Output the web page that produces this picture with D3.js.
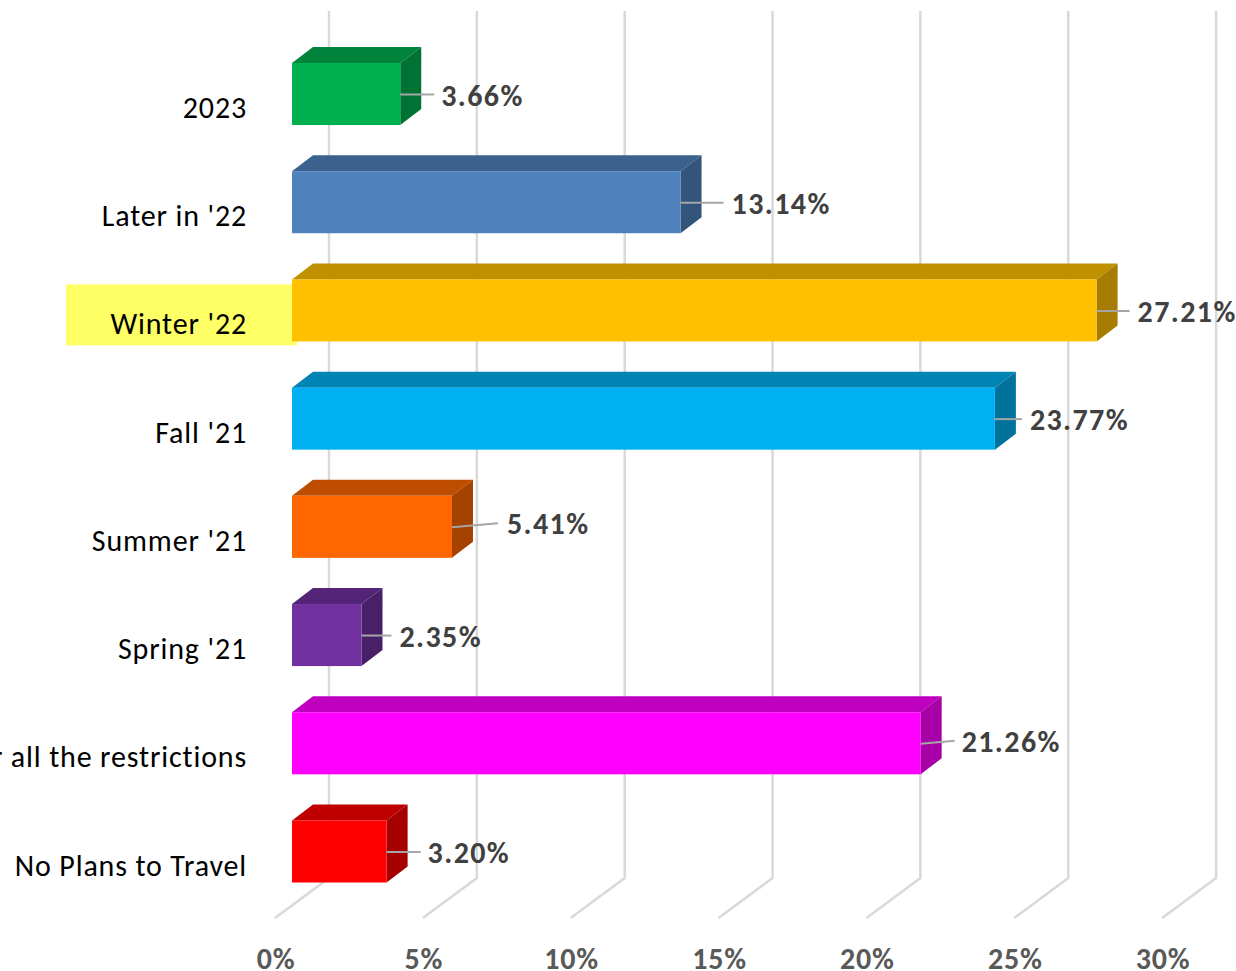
<!DOCTYPE html>
<html><head><meta charset="utf-8">
<script src="https://cdnjs.cloudflare.com/ajax/libs/d3/7.8.5/d3.min.js"></script>
<style>html,body{margin:0;background:#fff;overflow:hidden}svg{display:block}text{font-family:Carlito,Lato,"Open Sans",sans-serif}</style>
</head><body><script>
const categories = ["2023","Later in '22","Winter '22","Fall '21","Summer '21","Spring '21","Travel after all the restrictions","No Plans to Travel"];
const values = [3.66,13.14,27.21,23.77,5.41,2.35,21.26,3.20];
const barColors = ["#00B050","#4F81BD","#FFC000","#00B0F0","#FF6600","#7030A0","#FF00FF","#FF0000"];
const axisTicks = [0,5,10,15,20,25,30];
const highlighted = "Winter '22";
// layout of the leader lines, separate from the data
const leaderLength = [34,43,33,27,46,30,34,34];
const leaderRise = [0,0,0,0,4,0,3,0];
const labelGap = [41,51,41,35,55,38,41,41];

const W=1236,H=971, depthX=21, depthY=16;
const svg=d3.select("body").append("svg").attr("width",W).attr("height",H);
const x=d3.scaleLinear().domain([0,30]).range([292,292+29.57*30]);
const y=d3.scaleBand().domain(categories).range([63,882.5]).paddingInner(0.4267).paddingOuter(0);
const gridBackX=37, floorFrontX=-17, gridTop=11, gridBottom=878, floorY=918;

const grid=svg.append("g").attr("fill","none").attr("stroke","#D9D9D9").attr("stroke-width",2.5);
grid.selectAll("path").data(axisTicks).join("path")
 .attr("d",d=>`M${x(d)+gridBackX},${gridTop}V${gridBottom}L${x(d)+floorFrontX},${floorY}`);

svg.append("rect").attr("x",66).attr("y",y(highlighted)+5).attr("width",231).attr("height",61).attr("fill","#FFFF66");

const bars=svg.selectAll("g.bar").data(categories).join("g").attr("class","bar");
const shade=(c,k)=>{const r=d3.rgb(c);return d3.rgb(r.r*k,r.g*k,r.b*k).formatHex();};
bars.each(function(c,i){
  const g=d3.select(this), x0=x(0), x1=x(values[i]), y0=y(c), y1=y0+y.bandwidth();
  g.append("path").attr("fill",shade(barColors[i],.75))
   .attr("d",`M${x0},${y0}L${x0+depthX},${y0-depthY}H${x1+depthX}L${x1},${y0}Z`);
  g.append("path").attr("fill",shade(barColors[i],.65))
   .attr("d",`M${x1},${y0}L${x1+depthX},${y0-depthY}V${y1-depthY}L${x1},${y1}Z`);
  g.append("rect").attr("x",x0).attr("y",y0).attr("width",x1-x0).attr("height",y1-y0).attr("fill",barColors[i]);
  const ly=y0+31.5;
  g.append("path").attr("fill","none").attr("stroke","#A6A6A6").attr("stroke-width",2)
   .attr("d",`M${x1},${ly}L${x1+leaderLength[i]},${ly-leaderRise[i]}`);
  g.append("text").attr("x",x1+labelGap[i]).attr("y",ly+11-leaderRise[i]).attr("font-size",30).attr("letter-spacing",1.4).attr("font-weight",700).attr("fill","#404040")
   .text(values[i].toFixed(2)+"%");
  g.append("text").attr("x",247).attr("y",y1-7).attr("text-anchor","end").attr("font-size",30).attr("letter-spacing",0.85).attr("fill","#000").text(c);
});

const axisG=svg.append("g").attr("transform",`translate(${floorFrontX+0.5},${H-23.5})`)
 .call(d3.axisBottom(x).tickValues(axisTicks).tickSize(0).tickPadding(0).tickFormat(d=>d+"%"));
axisG.select(".domain").remove();
axisG.selectAll("text").attr("font-size",30).attr("letter-spacing",0.8).attr("font-weight",700).attr("fill","#595959").style("font-family",'Carlito,Lato,"Open Sans",sans-serif');
</script></body></html>
